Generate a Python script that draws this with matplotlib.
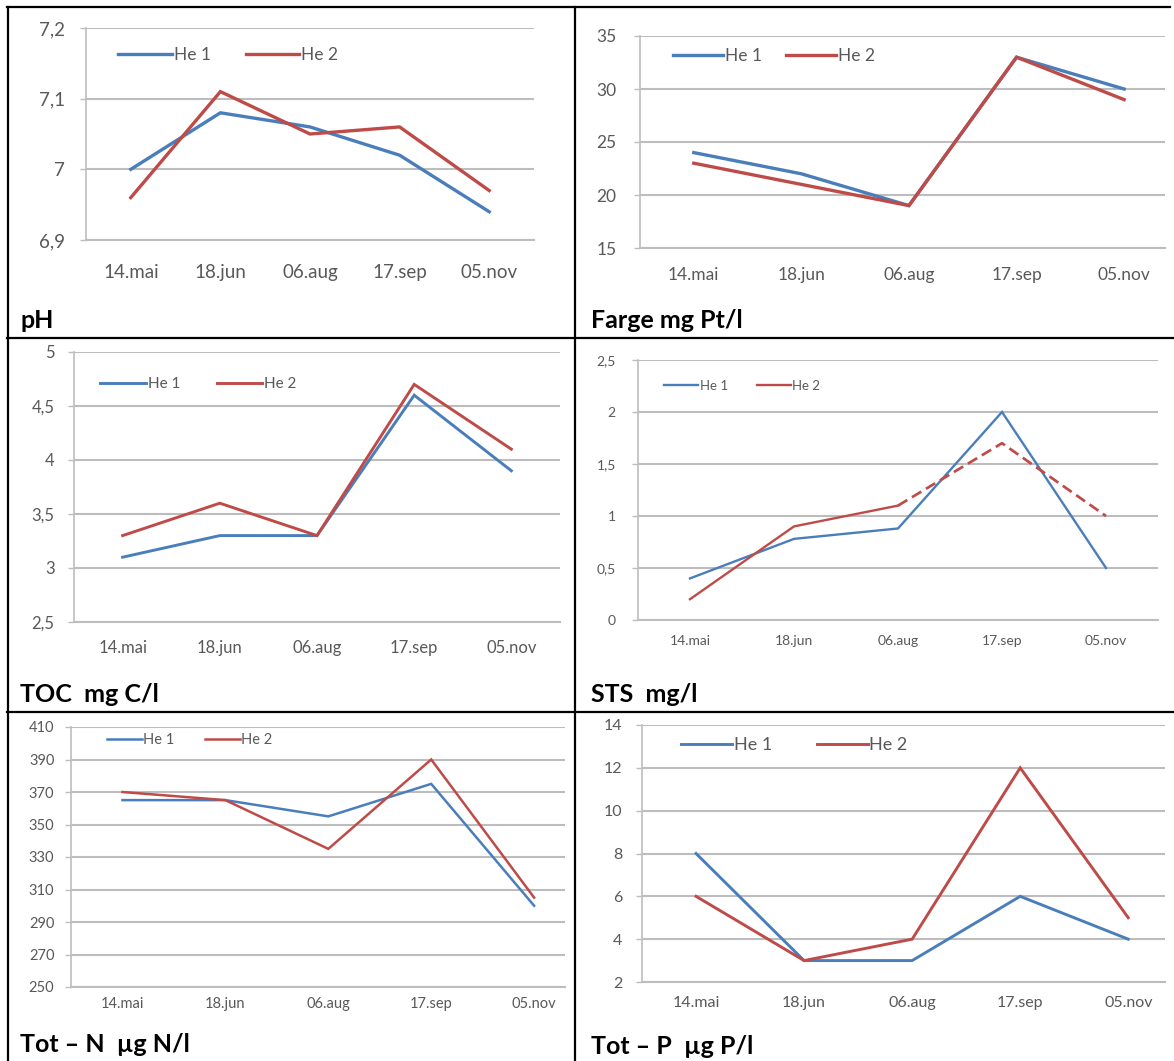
import matplotlib
matplotlib.use("Agg")
import matplotlib.pyplot as plt
from matplotlib.lines import Line2D
from matplotlib.transforms import Bbox, TransformedBbox

# ---------------- data ----------------
dates = ["14.mai", "18.jun", "06.aug", "17.sep", "05.nov"]
series_names = ["He 1", "He 2"]

ph_he1 = [7.00, 7.08, 7.06, 7.02, 6.94]
ph_he2 = [6.96, 7.11, 7.05, 7.06, 6.97]
ph_ticks = [6.9, 7.0, 7.1, 7.2]
ph_ticklabels = ["6,9", "7", "7,1", "7,2"]

farge_he1 = [24, 22, 19, 33, 30]
farge_he2 = [23, 21, 19, 33, 29]
farge_ticks = [15, 20, 25, 30, 35]
farge_ticklabels = ["15", "20", "25", "30", "35"]

toc_he1 = [3.1, 3.3, 3.3, 4.6, 3.9]
toc_he2 = [3.3, 3.6, 3.3, 4.7, 4.1]
toc_ticks = [2.5, 3.0, 3.5, 4.0, 4.5, 5.0]
toc_ticklabels = ["2,5", "3", "3,5", "4", "4,5", "5"]

sts_he1 = [0.4, 0.78, 0.88, 2.0, 0.5]
sts_he2 = [0.2, 0.9, 1.1, 1.7, 1.0]
sts_ticks = [0, 0.5, 1.0, 1.5, 2.0, 2.5]
sts_ticklabels = ["0", "0,5", "1", "1,5", "2", "2,5"]

totn_he1 = [365, 365, 355, 375, 300]
totn_he2 = [370, 365, 335, 390, 305]
totn_ticks = [250, 270, 290, 310, 330, 350, 370, 390, 410]
totn_ticklabels = [str(v) for v in totn_ticks]

totp_he1 = [8, 3, 3, 6, 4]
totp_he2 = [6, 3, 4, 12, 5]
totp_ticks = [2, 4, 6, 8, 10, 12, 14]
totp_ticklabels = [str(v) for v in totp_ticks]

titles = ["pH", "Farge mg Pt/l", "TOC  mg C/l", "STS  mg/l",
          "Tot \u2013 N  \u00b5g N/l", "Tot \u2013 P  \u00b5g P/l"]

# ---------------- layout / style ----------------
W, H = 1174, 1061
BLUE = "#4A7EBB"
RED = "#BE4B48"
GRID = "#bdbdbd"
TXT = "#595959"
FONT = ["Lato", "DejaVu Sans"]
plt.rcParams["font.family"] = FONT

fig = plt.figure(figsize=(W / 100, H / 100), dpi=100)
fig.patch.set_facecolor("white")


def fx(px):
    return px / W


def fy(py):
    return 1 - py / H


panels = [
    dict(d1=ph_he1, d2=ph_he2, ticks=ph_ticks, tl=ph_ticklabels,
         box=(86, 534, 28, 240), xr=4.5, fs=13.5, ypad=11, xpad=17, lw=2.4,
         leg=(0.072, 0.873), legfs=12.5, hl=3.1, cs=2.0,
         title=titles[0], tpos=(20, 321), clip=None, dash2=False),
    dict(d1=farge_he1, d2=farge_he2, ticks=farge_ticks, tl=farge_ticklabels,
         box=(640, 1165, 36, 248), xr=4.38, fs=12.5, ypad=13, xpad=14, lw=2.4,
         leg=(0.062, 0.906), legfs=12.5, hl=2.9, cs=1.4,
         title=titles[1], tpos=(591, 321), clip=None, dash2=False),
    dict(d1=toc_he1, d2=toc_he2, ticks=toc_ticks, tl=toc_ticklabels,
         box=(74, 560, 352, 622), xr=4.5, fs=12, ypad=10, xpad=13, lw=2.1,
         leg=(0.054, 0.881), legfs=11, hl=3.0, cs=2.4,
         title=titles[2], tpos=(20, 695), clip=None, dash2=False),
    dict(d1=sts_he1, d2=sts_he2, ticks=sts_ticks, tl=sts_ticklabels,
         box=(638, 1158, 360, 620), xr=4.5, fs=10, ypad=12, xpad=11, lw=1.7,
         leg=(0.05, 0.9), legfs=9.5, hl=2.6, cs=2.2,
         title=titles[3], tpos=(591, 695), clip=None, dash2=True),
    dict(d1=totn_he1, d2=totn_he2, ticks=totn_ticks, tl=totn_ticklabels,
         box=(71, 565, 727, 987), xr=4.3, fs=10.5, ypad=8, xpad=7, lw=1.8,
         leg=(0.072, 0.95), legfs=10.5, hl=2.4, cs=2.1,
         title=titles[4], tpos=(20, 1044), clip=565, dash2=False),
    dict(d1=totp_he1, d2=totp_he2, ticks=totp_ticks, tl=totp_ticklabels,
         box=(642, 1165, 725, 982), xr=4.34, fs=11.5, ypad=10, xpad=10, lw=2.1,
         leg=(0.075, 0.922), legfs=13, hl=2.8, cs=2.5,
         title=titles[5], tpos=(591, 1046), clip=None, dash2=False),
]

x = list(range(len(dates)))

for p in panels:
    L, R, T, B = p["box"]
    ax = fig.add_axes([fx(L), fy(B), fx(R) - fx(L), (B - T) / H])
    ax.set_facecolor("white")
    ax.plot(x, p["d1"], color=BLUE, lw=p["lw"], label=series_names[0],
            solid_joinstyle="miter", zorder=3)
    if p["dash2"]:
        ax.plot(x[:3], p["d2"][:3], color=RED, lw=p["lw"], label=series_names[1],
                solid_joinstyle="miter", zorder=3)
        ax.plot(x[2:], p["d2"][2:], color=RED, lw=p["lw"] * 1.15,
                linestyle=(0, (4, 2)), zorder=3)
    else:
        ax.plot(x, p["d2"], color=RED, lw=p["lw"], label=series_names[1],
                solid_joinstyle="miter", zorder=3)
    ax.set_xlim(-0.5, p["xr"])
    ax.set_ylim(p["ticks"][0], p["ticks"][-1])
    ax.set_yticks(p["ticks"])
    ax.set_yticklabels(p["tl"])
    ax.set_xticks(x)
    ax.set_xticklabels(dates)
    ax.yaxis.grid(True, color=GRID, lw=1.5, zorder=0)
    ax.set_axisbelow(True)
    for s in ["top", "right"]:
        ax.spines[s].set_visible(False)
    ax.spines["left"].set_color(GRID)
    ax.spines["left"].set_linewidth(1.2)
    ax.spines["bottom"].set_color(GRID)
    ax.spines["bottom"].set_linewidth(1.5)
    ax.tick_params(axis="y", length=4, width=1.0, color=GRID, labelcolor=TXT,
                   labelsize=p["fs"], pad=p["ypad"])
    ax.tick_params(axis="x", length=0, labelcolor=TXT, labelsize=p["fs"],
                   pad=p["xpad"])
    leg = ax.legend(loc="center left", bbox_to_anchor=p["leg"], ncol=2,
                    frameon=False, fontsize=p["legfs"], handlelength=p["hl"],
                    handletextpad=0.1, columnspacing=p["cs"], borderpad=0,
                    borderaxespad=0)
    for t in leg.get_texts():
        t.set_color(TXT)
    if p["clip"] is not None:
        fig.canvas.draw()
        cb = TransformedBbox(Bbox([[0, 0], [fx(p["clip"]), 1]]), fig.transFigure)
        for tick in ax.xaxis.get_major_ticks():
            tick.label1.set_clip_on(True)
            tick.label1.set_clip_box(cb)
    fig.text(fx(p["tpos"][0]), fy(p["tpos"][1]), p["title"], fontsize=18,
             fontweight="bold", color="black", ha="left", va="center")

# ---------------- table borders ----------------
def hline(y, x0, x1):
    fig.add_artist(Line2D([fx(x0), fx(x1)], [fy(y), fy(y)], color="black",
                          lw=1.6, transform=fig.transFigure))


def vline(xp, y0, y1):
    fig.add_artist(Line2D([fx(xp), fx(xp)], [fy(y0), fy(y1)], color="black",
                          lw=1.6, transform=fig.transFigure))


hline(7, 7, 1170)
hline(338, 7, 1174)
hline(712, 7, 1174)
vline(8, 7, 1061)
vline(575, 7, 1061)

fig.savefig("out.png", dpi=100, facecolor="white")
